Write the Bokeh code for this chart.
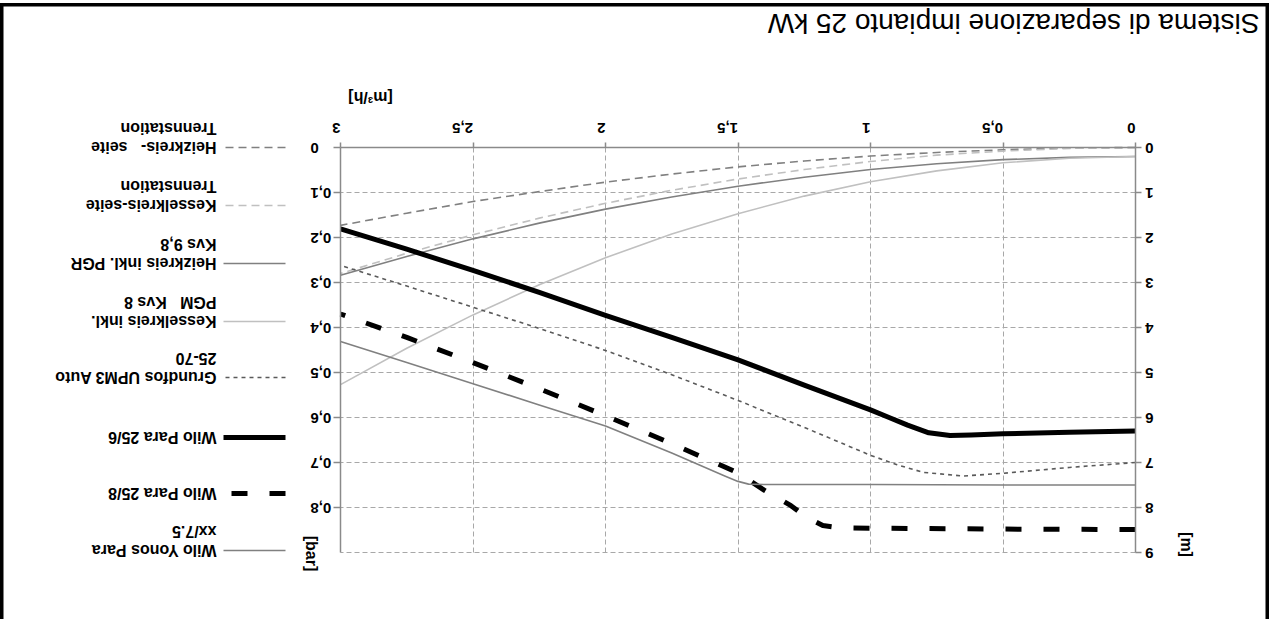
import math
from bokeh.plotting import figure
from bokeh.models import (Range1d, LinearAxis, FixedTicker, CustomJSTickFormatter,
                          Grid, GlobalInlineStyleSheet)
from bokeh.core.properties import value
from bokeh.embed import file_html
from bokeh.resources import INLINE

# ---------------- data (flow in m3/h, head in m) ----------------
flow = [0, 0.25, 0.5, 0.75, 1.0, 1.25, 1.5, 1.75, 2.0, 2.25, 2.5, 2.75, 3.0]
heiz_seite = [0, 0.01, 0.05, 0.11, 0.19, 0.30, 0.43, 0.59, 0.77, 0.98, 1.20, 1.46, 1.73]
kessel_seite = [0, 0.02, 0.08, 0.17, 0.31, 0.49, 0.70, 0.95, 1.24, 1.57, 1.94, 2.35, 2.80]
heiz_pgr = [0.20, 0.22, 0.27, 0.36, 0.49, 0.66, 0.86, 1.10, 1.37, 1.68, 2.03, 2.42, 2.84]
kessel_pgm = [0.20, 0.24, 0.34, 0.52, 0.76, 1.08, 1.47, 1.92, 2.45, 3.05, 3.72, 4.46, 5.27]

grundfos_q = [0, 0.25, 0.5, 0.65, 0.8, 0.9, 1.0, 1.25, 1.5, 1.75, 2.0, 2.25, 2.5, 2.75, 3.0]
grundfos_h = [7.00, 7.11, 7.24, 7.30, 7.22, 7.05, 6.84, 6.22, 5.62, 5.05, 4.51, 4.02, 3.55, 3.08, 2.62]

para6_q = [0, 0.25, 0.5, 0.62, 0.7, 0.78, 0.86, 0.93, 1.0, 1.25, 1.5, 1.75, 2.0, 2.25, 2.5, 2.75, 3.0]
para6_h = [6.30, 6.33, 6.36, 6.39, 6.40, 6.34, 6.17, 6.00, 5.83, 5.28, 4.72, 4.22, 3.73, 3.22, 2.73, 2.26, 1.81]

para8_q = [0, 0.5, 1.0, 1.12, 1.18, 1.24, 1.3, 1.4, 1.5, 1.75, 2.0, 2.25, 2.5, 2.75, 3.0]
para8_h = [8.49, 8.48, 8.46, 8.45, 8.40, 8.22, 7.96, 7.62, 7.23, 6.58, 5.96, 5.36, 4.78, 4.22, 3.70]

yonos_q = [0, 0.5, 1.0, 1.4, 1.46, 1.5, 1.55, 1.75, 2.0, 2.25, 2.5, 2.75, 3.0]
yonos_h = [7.50, 7.50, 7.49, 7.49, 7.48, 7.42, 7.30, 6.79, 6.19, 5.72, 5.25, 4.78, 4.31]

q_ticks = [0, 0.5, 1, 1.5, 2, 2.5, 3]
m_ticks = [0, 1, 2, 3, 4, 5, 6, 7, 8, 9]
bar_ticks = [0, 0.1, 0.2, 0.3, 0.4, 0.5, 0.6, 0.7, 0.8]

NB = "\u00a0"
title_text = "Sistema di separazione impianto 25 kW"
legend_line1 = ["Heizkreis-" + NB * 3 + "seite", "Kesselkreis-seite", "Heizkreis inkl. PGR",
                "Kesselkreis inkl.", "Grundfos UPM3 Auto", "Wilo Para 25/6",
                "Wilo Para 25/8", "Wilo Yonos Para"]
legend_line2 = ["Trennstation", "Trennstation", "Kvs 9,8", "PGM" + NB * 3 + "Kvs 8", "25-70",
                "", "", "xx/7.5"]

# ---------------- styles ----------------
DARK = "#808080"
LIGHT = "#c0c0c0"
DOTC = "#5a5a5a"
AXC = "#8a8a8a"
GRIDC = "#a8a8a8"
FONT = "Liberation Sans"

series_styles = [
    dict(line_color=DARK, line_width=1.6, line_dash="8 5"),
    dict(line_color=LIGHT, line_width=1.6, line_dash="8 5"),
    dict(line_color=DARK, line_width=1.6, line_dash="solid"),
    dict(line_color=LIGHT, line_width=1.6, line_dash="solid"),
    dict(line_color=DOTC, line_width=1.6, line_dash="4 4"),
    dict(line_color="black", line_width=5, line_dash="solid"),
    dict(line_color="black", line_width=5, line_dash="16 22"),
    dict(line_color=DARK, line_width=1.6, line_dash="solid"),
]

# ---------------- layout geometry (page pixels) ----------------
W, H = 1269, 640          # canvas; bottom edge lies below the window
TOP = 3                   # canvas top on the page
X0_PX, PX_PER_Q = 1135.0, 265.0   # page x of flow 0, px per m3/h (flow grows leftwards)
Y0_PX, PX_PER_M = 147.0, 45.0     # page y of head 0, px per m (head grows downwards)


def qx(px):
    return (X0_PX - px) / PX_PER_Q


def my(py):
    return (py - Y0_PX) / PX_PER_M


x_range = Range1d(start=qx(0), end=qx(W))
y_range = Range1d(start=my(TOP + H), end=my(TOP))

p = figure(width=W, height=H, output_backend="svg", toolbar_location=None,
           x_range=x_range, y_range=y_range,
           x_axis_location=None, y_axis_location=None,
           min_border=0,
           background_fill_color="white", border_fill_color="white",
           outline_line_color="black", outline_line_width=6,
           stylesheets=[GlobalInlineStyleSheet(
               css="html,body{margin:0;padding:0;overflow:hidden;} body{padding-top:3px;}")])
p.grid.visible = False

p.extra_y_ranges = {"bar": Range1d(start=y_range.start / 10, end=y_range.end / 10)}

fmt_code = "return (Math.round(tick*10)/10).toString().replace('.', ',');"


def make_axis(ticks, standoff, tick_out, loc, bounds, **kw):
    ax = LinearAxis(**kw)
    ax.fixed_location = loc
    ax.bounds = bounds
    ax.ticker = FixedTicker(ticks=ticks)
    ax.formatter = CustomJSTickFormatter(code=fmt_code)
    ax.axis_line_color = AXC
    ax.axis_line_width = 1.5
    ax.major_tick_line_color = AXC
    ax.major_tick_line_width = 1.5
    ax.minor_tick_line_color = None
    ax.major_tick_out = tick_out
    ax.major_tick_in = 0
    ax.major_label_standoff = standoff
    ax.major_label_text_font = FONT
    ax.major_label_text_font_style = "bold"
    ax.major_label_text_font_size = "15px"
    ax.major_label_text_color = "black"
    ax.major_label_orientation = math.pi
    return ax


q_axis = make_axis(q_ticks, 15, 5, 0, (0, 3))
m_axis = make_axis(m_ticks, 12, 6, 0, (0, 9))
bar_axis = make_axis(bar_ticks, 23, 7, 3, (0, 0.9), y_range_name="bar")
p.add_layout(q_axis, "above")
p.add_layout(m_axis, "right")
p.add_layout(bar_axis, "left")

# ---------------- grid ----------------
grid_style = dict(grid_line_color=GRIDC, grid_line_dash="5 3", grid_line_width=1)
if "cross_bounds" in Grid.properties():
    gx = Grid(dimension=0, ticker=FixedTicker(ticks=q_ticks[1:-1]),
              cross_bounds=(0, 9), **grid_style)
    gy = Grid(dimension=1, ticker=FixedTicker(ticks=m_ticks[1:]),
              cross_bounds=(0, 3), **grid_style)
    p.add_layout(gx)
    p.add_layout(gy)
else:
    p.segment(x0=q_ticks[1:-1], x1=q_ticks[1:-1], y0=[0] * 5, y1=[9] * 5,
              line_color=GRIDC, line_dash="5 3", line_width=1)
    p.segment(x0=[0] * 9, x1=[3] * 9, y0=m_ticks[1:], y1=m_ticks[1:],
              line_color=GRIDC, line_dash="5 3", line_width=1)

# ---------------- series ----------------
series = [
    (flow, heiz_seite), (flow, kessel_seite), (flow, heiz_pgr), (flow, kessel_pgm),
    (grundfos_q, grundfos_h), (para6_q, para6_h), (para8_q, para8_h), (yonos_q, yonos_h),
]
for (xs, ys), st in zip(series, series_styles):
    p.line(xs, ys, line_join="round", **st)

# ---------------- legend (upside down, like the whole chart) ----------------
legend_y_px = [147, 205, 263, 321, 377, 437, 493, 550]
tx, ty, tt = [], [], []
for l1, l2, ypx, st in zip(legend_line1, legend_line2, legend_y_px, series_styles):
    p.line([qx(285), qx(223)], [my(ypx), my(ypx)], **st)
    tx.append(qx(216)); ty.append(my(ypx)); tt.append(l1)
    if l2:
        tx.append(qx(216)); ty.append(my(ypx - 19)); tt.append(l2)
p.text(x=tx, y=ty, text=tt, angle=math.pi, text_align="left", text_baseline="middle",
       text_font=value(FONT), text_font_style="bold", text_font_size="16px",
       text_color="black")

# unit labels
p.text(x=[qx(370)], y=[my(97)], text=["[m³/h]"], angle=math.pi,
       text_align="center", text_baseline="middle", text_font=value(FONT),
       text_font_style="bold", text_font_size="16px", text_color="black")
p.text(x=[qx(311), qx(1186)], y=[my(553), my(544)], text=["[bar]", "[m]"],
       angle=-math.pi / 2, text_align="center", text_baseline="middle",
       text_font=value(FONT), text_font_style="bold", text_font_size="16px",
       text_color="black")

# title
p.text(x=[qx(1259)], y=[my(23)], text=[title_text], angle=math.pi,
       text_align="left", text_baseline="middle", text_font=value(FONT),
       text_font_size="28px", text_color="black")

open("out.html", "w").write(file_html(p, INLINE))
